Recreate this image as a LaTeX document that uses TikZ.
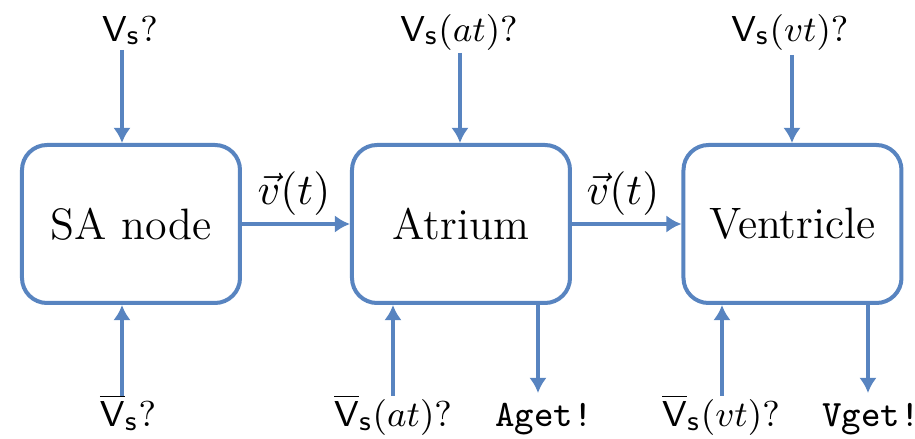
\documentclass[tikz,border=0pt]{standalone}
\usetikzlibrary{arrows.meta}
\definecolor{lineblue}{RGB}{88,132,192}
\begin{document}
\begin{tikzpicture}[x=0.25pt,y=-0.25pt,
  box/.style={draw=lineblue, line width=1pt, rounded corners=6.25pt, fill=white,
    minimum width=54.5pt, minimum height=39.5pt, inner sep=0pt,
    font=\fontsize{11}{13}\selectfont},
  conn/.style={draw=lineblue, line width=0.85pt, -{Latex[length=3.8pt,width=4.4pt]}},
  lab/.style={font=\fontsize{9.3}{11}\selectfont, inner sep=0pt, anchor=base},
  vlab/.style={font=\fontsize{10.5}{12}\selectfont, inner sep=0pt, anchor=base}]
\useasboundingbox (0,0) rectangle (915,439);

% boxes
\node[box] (sa) at (131,224) {SA node};
\node[box] (at) at (461,224) {Atrium};
\node[box] (ve) at (792.5,224) {Ventricle};

% horizontal connectors
\draw[conn] (sa.east) -- (at.west);
\draw[conn] (at.east) -- (ve.west);
\node[vlab] (v1) at (294,205) {$\vec{v}(t)$};
\node[vlab] (v2) at (623,205) {$\vec{v}(t)$};

% top inputs
\node[lab] (tsa) at (130,41) {$\mathsf{V}_{\mathsf{s}}?$};
\node[lab] (tat) at (459,41) {$\mathsf{V}_{\mathsf{s}}(at)?$};
\node[lab] (tve) at (790,41) {$\mathsf{V}_{\mathsf{s}}(vt)?$};
\coordinate (ts1) at (122,50);
\coordinate (ts2) at (460,53);
\coordinate (ts3) at (792,55);
\draw[conn] (ts1) -- (ts1 |- sa.north);
\draw[conn] (ts2) -- (ts2 |- at.north);
\draw[conn] (ts3) -- (ts3 |- ve.north);

% bottom inputs
\node[lab] (bsa) at (128,427) {$\overline{\mathsf{V}}_{\mathsf{s}}?$};
\node[lab] (bat) at (393,427) {$\overline{\mathsf{V}}_{\mathsf{s}}(at)?$};
\node[lab] (bve) at (721,427) {$\overline{\mathsf{V}}_{\mathsf{s}}(vt)?$};
\coordinate (bs1) at (122,396);
\coordinate (bs2) at (393,396);
\coordinate (bs3) at (722,396);
\draw[conn] (bs1) -- (bs1 |- sa.south);
\draw[conn] (bs2) -- (bs2 |- at.south);
\draw[conn] (bs3) -- (bs3 |- ve.south);

% outputs
\node[lab] (oat) at (544,427) {\texttt{Aget!}};
\node[lab] (ove) at (871,427) {\texttt{Vget!}};
\coordinate (os2) at (538,393);
\coordinate (os3) at (868,393);
\draw[conn] (os2 |- at.south) -- (os2);
\draw[conn] (os3 |- ve.south) -- (os3);
\end{tikzpicture}
\end{document}
